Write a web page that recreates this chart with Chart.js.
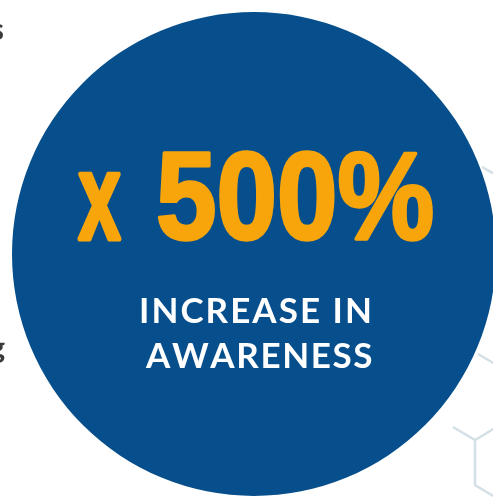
<!DOCTYPE html>
<html>
<head>
<meta charset="utf-8">
<script src="https://cdn.jsdelivr.net/npm/chart.js@4"></script>
<style>
html,body{margin:0;padding:0;background:#fff;overflow:hidden;}
#wrap{position:absolute;left:0;top:0;width:496px;height:498px;}
</style>
</head>
<body>
<div id="wrap"><canvas id="c"></canvas></div>
<script>
// Data
const categories = ["Awareness"];
const values = [100];
const multiplierLabel = "x";
const headline = "500%";
const captionLines = ["INCREASE IN", "AWARENESS"];

const BLUE = "#064f8c";
const ORANGE = "#f8a50c";
const HEX = "#d3e0e5";

function drawScaled(ctx, text, font, left, right, baseline, color, thick) {
  ctx.save();
  ctx.font = font;
  ctx.fillStyle = color;
  ctx.strokeStyle = color;
  ctx.lineJoin = "round";
  ctx.textAlign = "left";
  ctx.textBaseline = "alphabetic";
  const m = ctx.measureText(text);
  const inkW = m.actualBoundingBoxLeft + m.actualBoundingBoxRight;
  const l = left + thick / 2, r = right - thick / 2;
  const sx = (r - l) / inkW;
  const inkH = m.actualBoundingBoxAscent;
  const sy = (inkH - thick / 2) / inkH;
  ctx.translate(l, baseline - thick / 2);
  ctx.scale(sx, sy);
  ctx.fillText(text, m.actualBoundingBoxLeft, 0);
  ctx.setTransform(chartDPR(ctx), 0, 0, chartDPR(ctx), 0, 0);
  ctx.restore();
  // thicken by stroking in same transform
  ctx.save();
  ctx.font = font;
  ctx.strokeStyle = color;
  ctx.lineJoin = "round";
  ctx.translate(l, baseline - thick / 2);
  ctx.scale(sx, sy);
  ctx.lineWidth = thick / sx;
  ctx.strokeText(text, m.actualBoundingBoxLeft, 0);
  ctx.restore();
}
function chartDPR(ctx) { return ctx.getTransform().a; }

function drawSpaced(ctx, text, font, left, right, baseline, color) {
  ctx.save();
  ctx.font = font;
  ctx.fillStyle = color;
  ctx.textAlign = "left";
  ctx.textBaseline = "alphabetic";
  const chars = [...text];
  const m = ctx.measureText(text);
  const inkW = m.actualBoundingBoxLeft + m.actualBoundingBoxRight;
  const sp = (right - left - inkW) / (chars.length - 1);
  let x = left + m.actualBoundingBoxLeft;
  for (const ch of chars) {
    ctx.fillText(ch, x, baseline);
    x += ctx.measureText(ch).width + sp;
  }
  ctx.restore();
}

const decor = {
  id: "decor",
  beforeDraw(chart) {
    const ctx = chart.ctx;
    ctx.save();
    ctx.strokeStyle = HEX;
    ctx.lineWidth = 2.5;
    ctx.lineJoin = "miter";
    const paths = [
      [[482,167],[500,177]],
      [[478,354],[500,367]],
      [[453,427],[475,440],[500,425]],
      [[475,440],[475,485],[500,500]]
    ];
    for (const p of paths) {
      ctx.beginPath();
      ctx.moveTo(p[0][0], p[0][1]);
      for (let i = 1; i < p.length; i++) ctx.lineTo(p[i][0], p[i][1]);
      ctx.stroke();
    }
    ctx.fillStyle = "#3a3a3a";
    ctx.font = "bold 30px Lato";
    ctx.textAlign = "right";
    ctx.fillText("s", 4, 40);
    ctx.fillText("g", 5, 358);
    ctx.restore();
  },
  afterDraw(chart) {
    const ctx = chart.ctx;
    const f = "bold 126px 'Liberation Sans'";
    drawScaled(ctx, multiplierLabel, f, 77, 122, 240, ORANGE, 3);
    drawScaled(ctx, headline, f, 157, 433, 240, ORANGE, 3);
    const g = "bold 35px Lato";
    drawSpaced(ctx, captionLines[0], g, 141, 370, 323, "#ffffff");
    drawSpaced(ctx, captionLines[1], g, 145, 368, 368, "#ffffff");
  }
};

new Chart(document.getElementById("c"), {
  type: "pie",
  data: {
    labels: categories,
    datasets: [{
      data: values,
      backgroundColor: [BLUE],
      borderWidth: 0,
      hoverOffset: 0,
      offset: 0
    }]
  },
  options: {
    responsive: true,
    maintainAspectRatio: false,
    animation: false,
    events: [],
    layout: { padding: { left: 12, right: 0, top: 12, bottom: 2 } },
    plugins: { legend: { display: false }, tooltip: { enabled: false } }
  },
  plugins: [decor]
});
</script>
</body>
</html>
